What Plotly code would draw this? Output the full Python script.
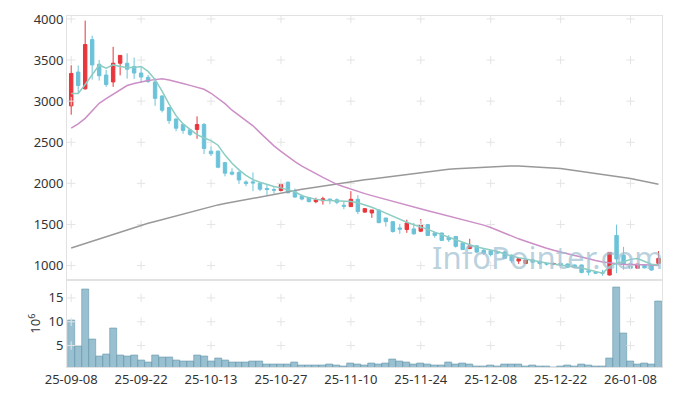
import plotly.graph_objects as go
from plotly.subplots import make_subplots

dates = [
    "25-09-08", "25-09-09", "25-09-10", "25-09-11", "25-09-12", "25-09-15", "25-09-16", "25-09-17", "25-09-18", "25-09-19",
    "25-09-22", "25-09-23", "25-09-24", "25-09-25", "25-09-26", "25-09-29", "25-09-30", "25-10-01", "25-10-02", "25-10-10",
    "25-10-13", "25-10-14", "25-10-15", "25-10-16", "25-10-17", "25-10-20", "25-10-21", "25-10-22", "25-10-23", "25-10-24",
    "25-10-27", "25-10-28", "25-10-29", "25-10-30", "25-10-31", "25-11-03", "25-11-04", "25-11-05", "25-11-06", "25-11-07",
    "25-11-10", "25-11-11", "25-11-12", "25-11-13", "25-11-14", "25-11-17", "25-11-18", "25-11-19", "25-11-20", "25-11-21",
    "25-11-24", "25-11-25", "25-11-26", "25-11-27", "25-11-28", "25-12-01", "25-12-02", "25-12-03", "25-12-04", "25-12-05",
    "25-12-08", "25-12-09", "25-12-10", "25-12-11", "25-12-12", "25-12-15", "25-12-16", "25-12-17", "25-12-18", "25-12-19",
    "25-12-22", "25-12-23", "25-12-24", "25-12-26", "25-12-29", "25-12-30", "26-01-02", "26-01-05", "26-01-06", "26-01-07",
    "26-01-08", "26-01-09", "26-01-12", "26-01-13", "26-01-14",
]

open_ = [2943, 3354, 3150, 3749, 3449, 3318, 3234, 3461, 3461, 3422,
         3342, 3290, 3234, 3063, 2923, 2783, 2716, 2651, 2656, 2716,
         2392, 2392, 2252, 2136, 2132, 2017, 2018, 2001, 1937, 1925,
         1913, 2013, 1897, 1845, 1825, 1777, 1789, 1809, 1801, 1734,
         1717, 1806, 1650, 1640, 1676, 1578, 1534, 1458, 1438, 1446,
         1418, 1498, 1398, 1396, 1342, 1354, 1274, 1208, 1240, 1186,
         1180, 1166, 1165, 1127, 1055, 1025, 1070, 1050, 1027, 1018,
         1027, 1019, 1007, 1007, 936, 916, 914, 885, 1367, 1127,
         1022, 968, 1004, 1010, 1027]
high = [3437, 3434, 3980, 3797, 3501, 3381, 3661, 3557, 3581, 3530,
        3422, 3318, 3282, 3070, 2930, 2790, 2725, 2660, 2815, 2735,
        2452, 2400, 2260, 2184, 2153, 2037, 2133, 2009, 1985, 1953,
        2003, 2025, 1937, 1865, 1830, 1825, 1837, 1813, 1817, 1785,
        1905, 1857, 1700, 1676, 1680, 1580, 1540, 1506, 1558, 1518,
        1566, 1505, 1405, 1400, 1370, 1355, 1280, 1326, 1245, 1200,
        1185, 1180, 1175, 1135, 1088, 1070, 1075, 1060, 1035, 1035,
        1035, 1025, 1012, 1012, 938, 925, 948, 1160, 1498, 1227,
        1030, 1020, 1010, 1015, 1175]
low = [2835, 3102, 3140, 3262, 3250, 3174, 3174, 3314, 3274, 3270,
       3222, 3222, 2943, 2863, 2723, 2635, 2603, 2576, 2543, 2356,
       2332, 2184, 2085, 2097, 1993, 1965, 1905, 1905, 1857, 1873,
       1901, 1878, 1825, 1793, 1770, 1758, 1741, 1746, 1746, 1686,
       1713, 1626, 1640, 1580, 1515, 1474, 1400, 1386, 1398, 1374,
       1406, 1360, 1338, 1300, 1286, 1218, 1190, 1198, 1150, 1130,
       1110, 1140, 1080, 1030, 1020, 1020, 1030, 1010, 1000, 1005,
       995, 970, 975, 905, 880, 900, 876, 880, 908, 950,
       960, 965, 965, 940, 1000]
close = [3337, 3190, 3689, 3441, 3309, 3202, 3461, 3557, 3389, 3342,
         3294, 3238, 3034, 2890, 2763, 2671, 2644, 2596, 2716, 2424,
         2360, 2196, 2124, 2112, 2041, 1997, 2005, 1929, 1925, 1917,
         1985, 1885, 1833, 1809, 1777, 1801, 1813, 1793, 1769, 1722,
         1806, 1658, 1692, 1676, 1522, 1534, 1414, 1442, 1518, 1386,
         1494, 1366, 1366, 1306, 1314, 1234, 1194, 1240, 1164, 1150,
         1134, 1154, 1086, 1057, 1083, 1068, 1040, 1025, 1018, 1024,
         1007, 979, 979, 916, 920, 908, 908, 1160, 1080, 1015,
         968, 1018, 972, 945, 1087]

ma5 = [3094, 3094, 3202, 3322, 3440, 3401, 3441, 3422, 3410, 3410,
       3422, 3362, 3262, 3123, 2963, 2823, 2723, 2656, 2592, 2552,
       2520, 2464, 2344, 2244, 2164, 2097, 2045, 2013, 1985, 1961,
       1945, 1925, 1897, 1850, 1825, 1805, 1795, 1790, 1787, 1785,
       1780, 1765, 1740, 1710, 1674, 1636, 1596, 1556, 1526, 1496,
       1470, 1440, 1406, 1374, 1346, 1314, 1282, 1254, 1226, 1206,
       1186, 1170, 1140, 1115, 1095, 1079, 1067, 1047, 1030, 1018,
       1010, 1000, 990, 970, 948, 927, 908, 987, 1027, 1047,
       1075, 1085, 1047, 1015, 1007]
ma20 = [2671, 2723, 2791, 2883, 2974, 3030, 3082, 3142, 3190, 3214,
        3234, 3250, 3262, 3272, 3258, 3240, 3215, 3192, 3168, 3144,
        3096, 3036, 2970, 2890, 2827, 2767, 2700, 2617, 2534, 2456,
        2390, 2324, 2264, 2210, 2162, 2120, 2072, 2030, 1988, 1958,
        1928, 1902, 1875, 1851, 1827, 1803, 1780, 1756, 1732, 1708,
        1684, 1666, 1646, 1624, 1606, 1582, 1558, 1540, 1516, 1492,
        1462, 1426, 1390, 1355, 1325, 1295, 1265, 1235, 1211, 1187,
        1163, 1139, 1121, 1103, 1079, 1061, 1043, 1032, 1020, 1014,
        1014, 1014, 1008, 1008, 1002]
ma60 = [1213, 1241, 1269, 1297, 1325, 1353, 1380, 1408, 1436, 1464,
        1491, 1514, 1537, 1560, 1583, 1606, 1629, 1652, 1676, 1699,
        1721, 1738, 1755, 1771, 1788, 1805, 1822, 1839, 1855, 1872,
        1887, 1900, 1914, 1927, 1940, 1954, 1967, 1980, 1993, 2007,
        2020, 2033, 2043, 2054, 2065, 2076, 2087, 2099, 2110, 2121,
        2132, 2143, 2155, 2166, 2171, 2177, 2182, 2187, 2193, 2198,
        2203, 2207, 2211, 2212, 2212, 2208, 2203, 2197, 2191, 2186,
        2180, 2168, 2157, 2145, 2134, 2122, 2109, 2096, 2083, 2071,
        2058, 2041, 2024, 2007, 1990]

volume = [10.2, 4.9, 16.9, 6.4, 2.8, 3.2, 8.7, 3.0, 2.7, 3.0,
          2.0, 1.4, 3.0, 2.5, 2.5, 2.0, 1.6, 1.6, 3.0, 2.7,
          1.6, 2.25, 1.85, 1.4, 1.4, 1.4, 1.6, 1.6, 1.15, 1.15,
          1.15, 1.15, 1.4, 0.95, 0.95, 0.95, 0.95, 1.15, 0.8, 0.75,
          1.35, 1.15, 0.95, 1.35, 1.15, 1.35, 2.2, 1.8, 1.55, 1.15,
          1.35, 1.15, 0.95, 0.95, 1.55, 1.15, 1.35, 1.15, 0.75, 0.75,
          0.95, 0.75, 1.15, 1.15, 1.15, 0.75, 0.95, 0.75, 0.75, 0.4,
          0.7, 0.95, 0.75, 1.15, 0.95, 0.75, 0.75, 2.4, 17.3, 7.6,
          1.8, 1.15, 1.35, 1.15, 14.2]

price_ticks = [1000, 1500, 2000, 2500, 3000, 3500, 4000]
volume_ticks = [5, 10, 15]
x_ticks = dates[::10]

FONT = "Noto Sans"
RED = "#e8363c"
BLUE = "#6cc3d9"
CROSS = "#e4e4e4"

fig = make_subplots(rows=2, cols=1, shared_xaxes=True)

# grid crosses
fig.add_trace(go.Scatter(
    x=[d for d in x_ticks for _ in price_ticks],
    y=[p for _ in x_ticks for p in price_ticks],
    mode="markers", marker=dict(symbol="cross-thin", size=6, line=dict(color=CROSS, width=1)),
    hoverinfo="skip", showlegend=False), row=1, col=1)
fig.add_trace(go.Scatter(
    x=[d for d in x_ticks for _ in volume_ticks],
    y=[p for _ in x_ticks for p in volume_ticks],
    mode="markers", marker=dict(symbol="cross-thin", size=6, line=dict(color=CROSS, width=1)),
    hoverinfo="skip", showlegend=False), row=2, col=1)

fig.add_trace(go.Scatter(x=dates, y=ma60, mode="lines", line=dict(color="#999999", width=1.5),
                         showlegend=False), row=1, col=1)
fig.add_trace(go.Scatter(x=dates, y=ma20, mode="lines", line=dict(color="#cc8fc6", width=1.5),
                         showlegend=False), row=1, col=1)

fig.add_trace(go.Candlestick(
    x=dates, open=open_, high=high, low=low, close=close,
    increasing=dict(line=dict(color=RED, width=1), fillcolor=RED),
    decreasing=dict(line=dict(color=BLUE, width=1), fillcolor=BLUE),
    whiskerwidth=0, showlegend=False), row=1, col=1)

fig.add_trace(go.Scatter(x=dates, y=ma5, mode="lines", line=dict(color="#8ccdc3", width=1.5),
                         showlegend=False), row=1, col=1)

fig.add_trace(go.Bar(x=dates, y=volume,
                     marker=dict(color="rgba(128,176,196,0.8)", line=dict(color="rgba(95,145,170,0.9)", width=0.6)),
                     showlegend=False), row=2, col=1)

fig.update_layout(
    width=673, height=398,
    margin=dict(l=67, r=10, t=12, b=29),
    plot_bgcolor="white", paper_bgcolor="white",
    font=dict(family=FONT, size=13, color="#333333"),
    bargap=0,
    showlegend=False,
    annotations=[dict(text="InfoPointer.com", xref="paper", yref="paper", x=0.807, y=0.312,
                      xanchor="center", yanchor="middle",
                      showarrow=False, font=dict(family=FONT, size=31, color="rgba(160,192,210,0.72)"))],
)

axis_common = dict(showline=True, mirror=True, linecolor="#e2e2e2", linewidth=1, showgrid=False,
                   zeroline=False, ticks="", tickfont=dict(family=FONT, size=13, color="#333333"))

fig.update_xaxes(type="category", range=[-0.6, 84.5], categoryorder="array", categoryarray=dates,
                 rangeslider=dict(visible=False), **axis_common)
fig.update_xaxes(showticklabels=False, row=1, col=1)
fig.update_xaxes(tickmode="array", tickvals=x_ticks, ticktext=x_ticks, row=2, col=1)

fig.update_yaxes(**axis_common)
fig.update_yaxes(domain=[0.249, 1.0], range=[829, 4036], tickmode="array", tickvals=price_ticks,
                 ticktext=[str(v) for v in price_ticks], row=1, col=1)
fig.update_yaxes(domain=[0.0, 0.247], range=[0.5, 18.7], tickmode="array", tickvals=volume_ticks,
                 ticktext=[str(v) for v in volume_ticks],
                 title=dict(text="10<sup>6</sup>", standoff=4, font=dict(family=FONT, size=13, color="#333333")),
                 row=2, col=1)

fig.write_html("out.html", config={"displayModeBar": False},
               post_script="document.body.style.margin='0';")
